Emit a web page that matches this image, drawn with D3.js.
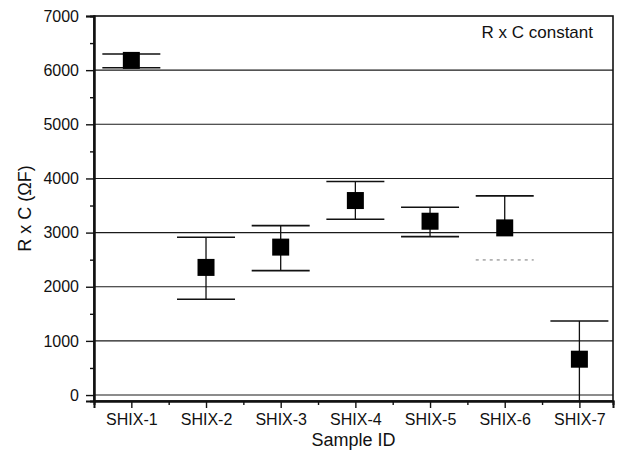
<!DOCTYPE html>
<html>
<head>
<meta charset="utf-8">
<script src="https://cdn.jsdelivr.net/npm/d3@7"></script>
<style>
  body { margin: 0; background: #fff; }
  text { font-family: "Liberation Sans", Arial, Helvetica, sans-serif; fill: #111; }
</style>
</head>
<body>
<svg id="chart" width="621" height="459"></svg>
<script>
// Sample names and R x C values (ohm·farad) with upper / lower error limits
const samples = ["SHIX-1", "SHIX-2", "SHIX-3", "SHIX-4", "SHIX-5", "SHIX-6", "SHIX-7"];
const rcMean  = [6180, 2357, 2732, 3592, 3210, 3087, 662];
const rcHigh  = [6298, 2915, 3129, 3943, 3469, 3678, 1368];
const rcLow   = [6044, 1769, 2298, 3247, 2926, 2495, -150];
const yTicks  = [0, 1000, 2000, 3000, 4000, 5000, 6000, 7000];
const yMinor  = [500, 1500, 2500, 3500, 4500, 5500, 6500];
const xMinor  = [1.5, 2.5, 3.5, 4.5, 5.5, 6.5];

const svg = d3.select("#chart");
const plotL = 94, plotR = 613, plotT = 16, plotB = 401;

const x = d3.scaleLinear().domain([0.5, 7.45]).range([plotL, plotR]);
const y = d3.scaleLinear().domain([-110, 7000]).range([plotB, plotT]);

// clip region for error bars
svg.append("defs").append("clipPath").attr("id", "plotClip")
  .append("rect").attr("x", plotL).attr("y", plotT)
  .attr("width", plotR - plotL).attr("height", plotB - plotT);

// horizontal grid lines
svg.append("g").selectAll("line").data(yTicks.filter(v => v < 7000)).join("line")
  .attr("x1", plotL).attr("x2", plotR)
  .attr("y1", d => y(d)).attr("y2", d => y(d))
  .attr("stroke", "#1a1a1a").attr("stroke-width", 1.1);

// frame
svg.append("rect").attr("x", plotL).attr("y", plotT)
  .attr("width", plotR - plotL).attr("height", plotB - plotT)
  .attr("fill", "none").attr("stroke", "#111").attr("stroke-width", 1.6);

// y axis (major + minor ticks)
const yAxis = svg.append("g").attr("transform", `translate(${plotL},0)`)
  .call(d3.axisLeft(y).tickValues(yTicks).tickSize(8).tickPadding(7).tickFormat(d3.format("d")));
const yAxisMinor = svg.append("g").attr("transform", `translate(${plotL},0)`)
  .call(d3.axisLeft(y).tickValues(yMinor).tickSize(4).tickFormat(""));

// x axis (major + minor ticks)
const xAxis = svg.append("g").attr("transform", `translate(0,${plotB})`)
  .call(d3.axisBottom(x).tickValues(d3.range(1, samples.length + 1)).tickSize(7).tickPadding(6)
    .tickFormat(i => samples[i - 1]));
const xAxisMinor = svg.append("g").attr("transform", `translate(0,${plotB})`)
  .call(d3.axisBottom(x).tickValues(xMinor).tickSize(4).tickFormat(""));

[yAxis, yAxisMinor, xAxis, xAxisMinor].forEach(g => {
  g.select(".domain").attr("stroke", "#111").attr("stroke-width", 2);
  g.selectAll(".tick line").attr("stroke", "#111").attr("stroke-width", 1.4);
});
yAxis.selectAll(".tick text").attr("font-size", 16).attr("fill", "#111");
xAxis.selectAll(".tick text").attr("font-size", 16).attr("fill", "#111");

// axis titles
svg.append("text").attr("x", (plotL + plotR) / 2).attr("y", 446)
  .attr("text-anchor", "middle").attr("font-size", 18).text("Sample ID");
svg.append("text")
  .attr("transform", `translate(31,${(plotT + plotB) / 2}) rotate(-90)`)
  .attr("text-anchor", "middle").attr("font-size", 18).text("R x C (\u03A9F)");

// annotation
svg.append("text").attr("x", 593).attr("y", 38).attr("text-anchor", "end")
  .attr("font-size", 17).text("R x C constant");

// error bars and markers
const capHalf = 29, box = 17;
const pts = samples.map((s, i) => ({ s, i: i + 1, m: rcMean[i], hi: rcHigh[i], lo: rcLow[i] }));
const faintLower = new Set(["SHIX-6"]);
const eb = svg.append("g").attr("clip-path", "url(#plotClip)");

const g = eb.selectAll("g").data(pts).join("g");
// upper whisker
g.append("line")
  .attr("x1", d => x(d.i)).attr("x2", d => x(d.i))
  .attr("y1", d => y(d.m)).attr("y2", d => y(d.hi))
  .attr("stroke", "#111").attr("stroke-width", 1.3);
// lower whisker
g.append("line")
  .attr("x1", d => x(d.i)).attr("x2", d => x(d.i))
  .attr("y1", d => y(d.m)).attr("y2", d => y(d.lo))
  .attr("stroke", d => faintLower.has(d.s) ? "none" : "#111").attr("stroke-width", 1.3);
// caps
g.append("line")
  .attr("x1", d => x(d.i) - capHalf).attr("x2", d => x(d.i) + capHalf)
  .attr("y1", d => y(d.hi)).attr("y2", d => y(d.hi))
  .attr("stroke", "#111").attr("stroke-width", 1.6);
g.append("line")
  .attr("x1", d => x(d.i) - capHalf).attr("x2", d => x(d.i) + capHalf)
  .attr("y1", d => y(d.lo)).attr("y2", d => y(d.lo))
  .attr("stroke", d => faintLower.has(d.s) ? "#777" : "#111")
  .attr("stroke-dasharray", d => faintLower.has(d.s) ? "3,4" : null)
  .attr("stroke-width", d => faintLower.has(d.s) ? 1 : 1.6);
// square markers
svg.append("g").selectAll("rect").data(pts).join("rect")
  .attr("x", d => x(d.i) - box / 2).attr("y", d => y(d.m) - box / 2)
  .attr("width", box).attr("height", box).attr("fill", "#000");
</script>
</body>
</html>
